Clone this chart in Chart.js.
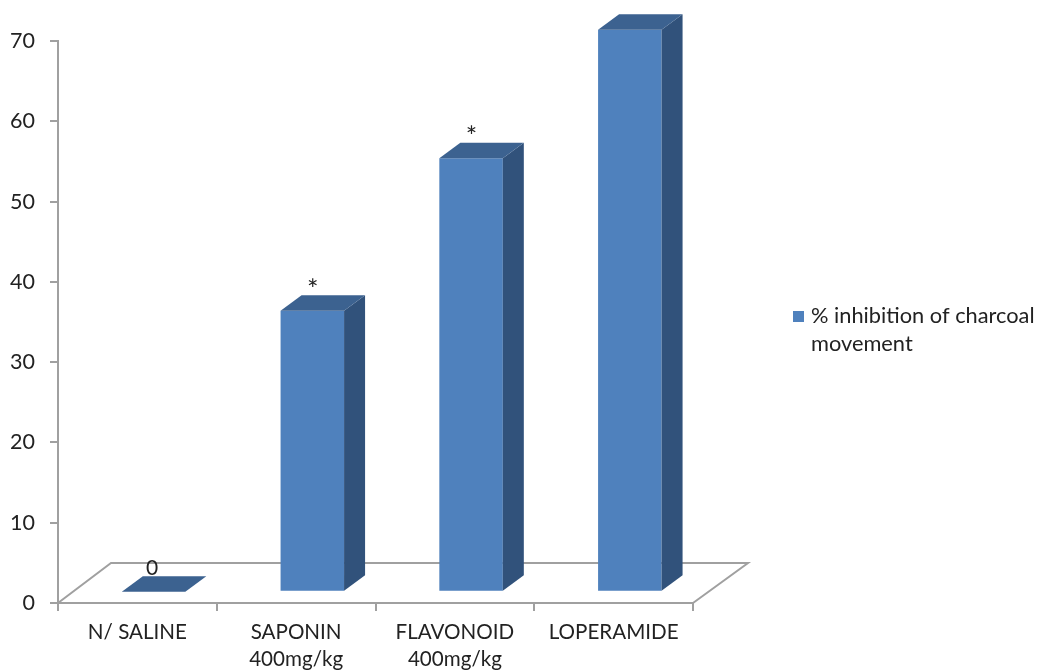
<!DOCTYPE html>
<html>
<head>
<meta charset="utf-8">
<style>
  body { margin: 0; background: #fff; }
  canvas { display: block; }
</style>
<script src="https://cdn.jsdelivr.net/npm/chart.js@4"></script>
</head>
<body>
<canvas id="chart" width="1040" height="672"></canvas>
<script>
// chart data
const categories = ["N/ SALINE", ["SAPONIN", "400mg/kg"], ["FLAVONOID", "400mg/kg"], "LOPERAMIDE"];
const inhibition = [0, 35, 54, 70];
const barMarks = ["0", "*", "*", ""];
const legendLines = ["% inhibition of charcoal", "movement"];
const yTicks = [0, 10, 20, 30, 40, 50, 60, 70];

const TEXT = "#222222";
const AXIS = "#a0a0a0";
const FRONT = "#4f81bd";
const TOP = "#3c6290";
const SIDE = "#31527b";

// the fake 3D: floor depth and how far the bars sit into it
const SHIFT = { x: 16.2, y: -11.2 };
const DEPTH = { x: 21, y: -15.5 };
const FLOOR = { x: 53, y: -40 };

const pseudo3d = {
    id: "pseudo3d",
    beforeDatasetsDraw(chart) {
        const { ctx, chartArea: area } = chart;
        // floor, open at the front because the x axis is already there
        ctx.save();
        ctx.strokeStyle = AXIS;
        ctx.lineWidth = 2;
        ctx.beginPath();
        ctx.moveTo(area.left, area.bottom);
        ctx.lineTo(area.left + FLOOR.x, area.bottom + FLOOR.y);
        ctx.lineTo(area.right + FLOOR.x + 2, area.bottom + FLOOR.y);
        ctx.lineTo(area.right, area.bottom);
        ctx.stroke();
        ctx.restore();
        // move the real bars back onto the floor
        ctx.save();
        ctx.translate(SHIFT.x, SHIFT.y);
    },
    afterDatasetsDraw(chart) {
        const { ctx } = chart;
        chart.getDatasetMeta(0).data.forEach((bar, i) => {
            const half = bar.width / 2;
            const l = bar.x - half, r = bar.x + half;
            const isStar = barMarks[i] === "*";
            // side face
            ctx.fillStyle = SIDE;
            ctx.beginPath();
            ctx.moveTo(r, bar.y);
            ctx.lineTo(r + DEPTH.x, bar.y + DEPTH.y);
            ctx.lineTo(r + DEPTH.x, bar.base + DEPTH.y);
            ctx.lineTo(r, bar.base);
            ctx.closePath();
            ctx.fill();
            // top face
            ctx.fillStyle = TOP;
            ctx.beginPath();
            ctx.moveTo(l, bar.y);
            ctx.lineTo(l + DEPTH.x, bar.y + DEPTH.y);
            ctx.lineTo(r + DEPTH.x, bar.y + DEPTH.y);
            ctx.lineTo(r, bar.y);
            ctx.closePath();
            ctx.fill();
            // value marks over the bars
            ctx.fillStyle = TEXT;
            ctx.font = isStar ? "27px Lato" : "21px Lato";
            ctx.textAlign = "center";
            ctx.textBaseline = "middle";
            ctx.fillText(barMarks[i], bar.x + (isStar ? 0.5 : -1.5), bar.y - (isStar ? 21 : 24));
        });
        ctx.restore();

        // legend, wrapped over two lines
        ctx.save();
        ctx.fillStyle = FRONT;
        ctx.fillRect(793, 311, 11, 11);
        ctx.fillStyle = TEXT;
        ctx.font = "21.8px Lato";
        ctx.textAlign = "left";
        ctx.textBaseline = "middle";
        legendLines.forEach((line, i) => ctx.fillText(line, 811, 316 + i * 28));
        ctx.restore();
    }
};

new Chart(document.querySelector("#chart").getContext("2d"), {
    type: "bar",
    data: {
        labels: categories,
        datasets: [{
            label: legendLines.join(" "),
            data: inhibition,
            backgroundColor: FRONT,
            borderWidth: 0,
            barPercentage: 0.4,
            categoryPercentage: 1,
            clip: false
        }]
    },
    options: {
        responsive: false,
        animation: false,
        devicePixelRatio: 1,
        layout: { padding: { top: 41, right: 347, left: 0, bottom: 0 } },
        plugins: { legend: { display: false }, tooltip: { enabled: false } },
        scales: {
            x: {
                afterFit(scale) { scale.height = 69; },
                grid: { drawOnChartArea: false, color: AXIS, lineWidth: 2, tickLength: 8 },
                border: { color: AXIS, width: 2 },
                ticks: { color: TEXT, font: { family: "Lato", size: 20.6, lineHeight: 1.31 }, padding: 8, maxRotation: 0, autoSkip: false }
            },
            y: {
                min: 0,
                max: 70,
                afterFit(scale) { scale.width = 58; },
                afterBuildTicks(scale) { scale.ticks = yTicks.map(value => ({ value })); },
                grid: { drawOnChartArea: false, color: AXIS, lineWidth: 2, tickLength: 8 },
                border: { color: AXIS, width: 2 },
                ticks: { color: TEXT, font: { family: "Lato", size: 21.5 }, padding: 15 }
            }
        }
    },
    plugins: [pseudo3d]
});
</script>
</body>
</html>
